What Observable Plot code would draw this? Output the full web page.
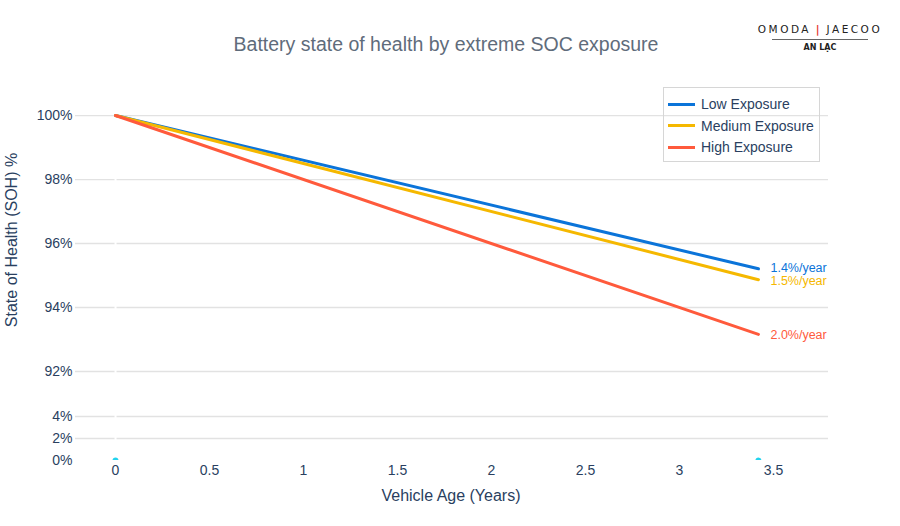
<!DOCTYPE html>
<html>
<head>
<meta charset="utf-8">
<script src="https://cdn.jsdelivr.net/npm/d3@7"></script>
<script src="https://cdn.jsdelivr.net/npm/@observablehq/plot@0.6"></script>
<style>
  html, body { margin: 0; padding: 0; background: #fff; }
  #wrap { position: relative; width: 900px; height: 526px; font-family: "Liberation Sans", Arial, Helvetica, sans-serif; overflow: hidden; }
  #chart { position: absolute; left: 0; top: 0; }
  .abs { position: absolute; white-space: nowrap; }
  #title { left: 0; width: 892px; top: 33px; text-align: center; font-size: 19.5px; color: #5f6c7b; }
  #xlabel { left: 0; width: 902px; top: 487px; text-align: center; font-size: 16px; color: #2a3f5f; }
  #ylabel { left: 12px; top: 240px; font-size: 16px; color: #2a3f5f; transform: translate(-50%, -50%) rotate(-90deg); }
  #legend { left: 663px; top: 87px; width: 155px; height: 73px; border: 1px solid #d6d6d6; }
  .leg-row { position: absolute; left: 4px; height: 20px; display: flex; align-items: center; font-size: 14px; color: #2a3f5f; }
  .leg-swatch { width: 27px; height: 3px; margin-right: 6px; }
  #logo { left: 750px; top: 23px; width: 140px; text-align: center; }
  #logo .brand { font-family: "DejaVu Sans", sans-serif; font-weight: normal; font-size: 10.5px; line-height: 13px; letter-spacing: 2.5px; color: #222; }
  #logo .sep { color: #e53935; font-weight: bold; }
  #logo .rule { margin: 3px auto 0 auto; width: 96px; height: 1px; background: #666; }
  #logo .sub { font-family: "DejaVu Sans", sans-serif; font-weight: bold; font-size: 8px; line-height: 10px; color: #222; margin-top: 3px; }
</style>
</head>
<body>
<div id="wrap">
  <div id="chart"></div>
  <div id="title" class="abs">Battery state of health by extreme SOC exposure</div>
  <div id="xlabel" class="abs">Vehicle Age (Years)</div>
  <div id="ylabel" class="abs">State of Health (SOH) %</div>
  <div id="legend" class="abs"></div>
  <div id="logo" class="abs">
    <div class="brand">OMODA<span class="sep">&thinsp;|&thinsp;</span>JAECOO</div>
    <div class="rule"></div>
    <div class="sub">AN LẠC</div>
  </div>
</div>
<script>
// ---- Data ----
const seriesNames = ["Low Exposure", "Medium Exposure", "High Exposure"];
const years = [0, 3.42];
const lowSOH = [100, 95.21];
const mediumSOH = [100, 94.87];
const highSOH = [100, 93.16];
const rateLabels = ["1.4%/year", "1.5%/year", "2.0%/year"];
const markerYears = [0, 3.42];
const markerValues = [0, 0];
const yTicks = [0, 2, 4, 92, 94, 96, 98, 100];
const gridTicks = [2, 4, 92, 94, 96, 98, 100];
const xTicks = [0, 0.5, 1, 1.5, 2, 2.5, 3, 3.5];

// ---- Styles ----
const seriesColors = ["#0b74d9", "#f5b800", "#ff5a3c"];
const markerColor = "#22d3ee";
const labelNudge = [-1, 1.5, 0.5];

// ---- Broken y axis: piecewise mapping (lower panel 0–4.5%, upper panel 91.5–100.72%) ----
const brokenY = d3.scaleLinear().domain([0, 4.5, 91.5, 100.72]).range([0, 49.5, 73, 368]);

// ---- Build tables ----
const seriesValues = [lowSOH, mediumSOH, highSOH];
const rows = [];
seriesNames.forEach((name, i) => {
  years.forEach((yr, j) => rows.push({series: name, year: yr, soh: seriesValues[i][j]}));
});
const endRows = seriesNames.map((name, i) => ({
  series: name,
  year: years[years.length - 1],
  soh: seriesValues[i][seriesValues[i].length - 1],
  label: rateLabels[i]
}));
const markers = markerYears.map((yr, i) => ({year: yr, soh: markerValues[i]}));

const chart = Plot.plot({
  width: 900,
  height: 526,
  marginLeft: 75,
  marginRight: 72,
  marginTop: 92,
  marginBottom: 66,
  style: {fontFamily: '"Liberation Sans", Arial, Helvetica, sans-serif', fontSize: "14px", color: "#2a3f5f", background: "transparent"},
  x: {domain: [-0.2128, 3.7926]},
  y: {transform: brokenY, domain: [0, 368]},
  color: {domain: seriesNames, range: seriesColors},
  marks: [
    Plot.ruleY(gridTicks, {stroke: "#e2e2e2", strokeWidth: 1.3}),
    Plot.ruleX([0], {y1: 0, y2: 100.72, stroke: "#ffffff", strokeWidth: 2}),
    Plot.axisY(yTicks, {tickFormat: d => d + "%", tickSize: 0, tickPadding: 3, label: null, fontSize: 14}),
    Plot.axisX(xTicks, {tickFormat: d => String(d), tickSize: 0, tickPadding: 5, label: null, fontSize: 14}),
    Plot.line(rows, {x: "year", y: "soh", z: "series", stroke: "series", strokeWidth: 3}),
    ...endRows.map((r, i) => Plot.text([r], {x: "year", y: "soh", text: "label", fill: "series", textAnchor: "start", dx: 12, dy: labelNudge[i], fontSize: 12.5})),
    Plot.dot(markers, {x: "year", y: "soh", r: 3, fill: markerColor, stroke: "none", clip: true})
  ]
});
document.getElementById("chart").appendChild(chart);

// ---- Legend ----
const legend = document.getElementById("legend");
seriesNames.forEach((name, i) => {
  const row = document.createElement("div");
  row.className = "leg-row";
  row.style.top = (6 + i * 21.5) + "px";
  const sw = document.createElement("div");
  sw.className = "leg-swatch";
  sw.style.background = seriesColors[i];
  const lab = document.createElement("span");
  lab.textContent = name;
  row.appendChild(sw);
  row.appendChild(lab);
  legend.appendChild(row);
});
</script>
</body>
</html>
